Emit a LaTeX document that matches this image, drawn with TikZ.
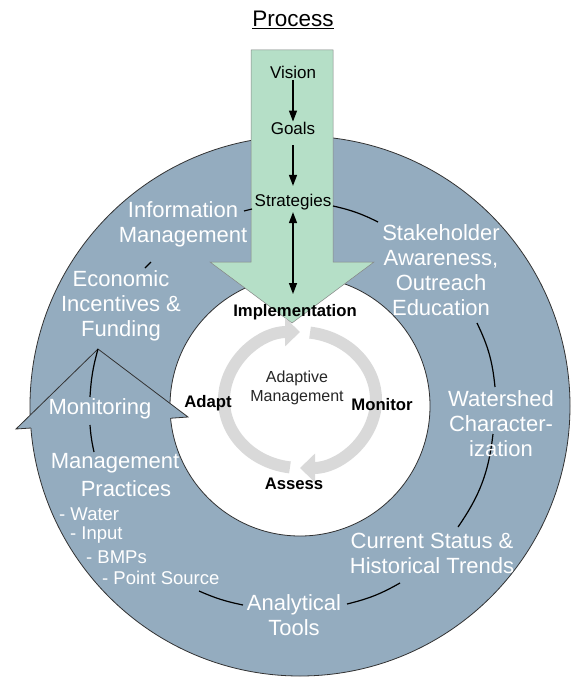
\documentclass[tikz,border=0pt]{standalone}
\usepackage{fontspec}
\setmainfont{Liberation Sans}
\usetikzlibrary{arrows.meta,calc}
\definecolor{ringblue}{RGB}{148,172,191}
\definecolor{arrgreen}{RGB}{181,223,199}
\definecolor{amgray}{RGB}{217,217,217}
\definecolor{edgegray}{RGB}{50,50,50}
\begin{document}
\begin{tikzpicture}[x=1pt,y=1pt,
  ringtxt/.style={text=white, font=\fontsize{22}{25}\selectfont, align=center, inner sep=0pt},
  subtxt/.style={text=white, font=\fontsize{18.5}{21}\selectfont, anchor=west, inner sep=0pt},
  greentxt/.style={font=\fontsize{17}{20}\selectfont, inner sep=0pt},
  amtxt/.style={font=\bfseries\fontsize{16.7}{19}\selectfont, inner sep=0pt},
  link/.style={line width=1.2pt, black},
  flow/.style={line width=1.4pt, -{Triangle[width=8pt,length=11pt]}},
  dflow/.style={line width=1.4pt, {Triangle[width=8pt,length=11pt]}-{Triangle[width=8pt,length=11pt]}},
  cyc/.style={line width=12pt, amgray, -{Triangle[width=28pt,length=15pt]}},
]
\useasboundingbox (0,0) rectangle (573,-677);
\coordinate (ctr) at (300,-406);
% ring
\fill[ringblue, even odd rule] (ctr) circle[radius=270] (ctr) circle[radius=130];
\draw[edgegray, line width=0.8pt] (ctr) circle[radius=270] (ctr) circle[radius=130];
% arrow head of the ring
\coordinate (tip) at (98,-349);
\coordinate (hl) at (16,-429);
\coordinate (hr) at (188,-417);
\coordinate (ho) at (31,-428);
\coordinate (hi) at (171,-418.2);
\fill[ringblue] (hl) -- (tip) -- (hr) -- cycle;
\draw[edgegray, line width=0.8pt] (ho) -- (hl) -- (tip) -- (hr) -- (hi);
% green arrow
\fill[arrgreen, draw=edgegray!60, line width=0.5pt]
  (251,-50) -- (333,-50) -- (333,-262) -- (374,-262) -- (292,-323) -- (210,-262) -- (251,-262) -- cycle;
% ring connectors
\coordinate (l1a) at (244,-211); \coordinate (l1b) at (252,-209);
\coordinate (l2a) at (333,-206); \coordinate (l2b) at (378,-222);
\coordinate (l3a) at (145,-268); \coordinate (l3b) at (151,-262);
\coordinate (l4b) at (90,-397);
\coordinate (l5a) at (90,-425); \coordinate (l5b) at (94,-452);
\coordinate (l6a) at (199,-591); \coordinate (l6b) at (243,-605);
\coordinate (l7a) at (347,-604); \coordinate (l7b) at (400,-583);
\coordinate (l8a) at (458,-527); \coordinate (l8b) at (493,-434);
\coordinate (l9a) at (477,-323); \coordinate (l9b) at (495,-387);
\draw[link] (l1a) -- (l1b);
\draw[link] (l2a) to[bend left=7] (l2b);
\draw[link] (l3a) -- (l3b);
\draw[link] (tip) to[bend right=6] (l4b);
\draw[link] (l5a) to[bend right=4] (l5b);
\draw[link] (l6a) to[bend right=6] (l6b);
\draw[link] (l7a) to[bend right=8] (l7b);
\draw[link] (l8a) to[bend right=14] (l8b);
\draw[link] (l9a) to[bend left=10] (l9b);
% texts in the green arrow
\node[greentxt, font=\fontsize{22.5}{26}\selectfont] (process) at (293,-20) {\underline{Process}};
\node[greentxt] (vision) at (293,-72) {Vision};
\node[greentxt] (goals) at (293,-128) {Goals};
\node[greentxt] (strat) at (293,-202) {Strategies};
\node[amtxt] (impl) at (295,-312) {Implementation};
\draw[flow] ([yshift=-2pt]vision.south) -- (goals.north);
\draw[flow] ([yshift=-11pt]goals.south) -- ([yshift=8pt]strat.north);
\draw[dflow] ([yshift=-2pt]strat.south) -- ([yshift=10pt]impl.north -| strat.south);
% adaptive management cycle
\coordinate (amc) at (300,-400);
\draw[cyc] ($(amc)+(-97.6:76 and 68)$) arc[start angle=-97.6, end angle=-270, x radius=76, y radius=68];
\draw[cyc] ($(amc)+(82.4:76 and 68)$) arc[start angle=82.4, end angle=-90, x radius=76, y radius=68];
\node[amtxt] (adapt) at (208,-403) {Adapt};
\node[amtxt] (monitor) at (382,-405) {Monitor};
\node[amtxt] (assess) at (294,-484) {Assess};
\node[font=\fontsize{16}{19}\selectfont, align=center, inner sep=0pt, text=black!85] (am) at (297,-388) {Adaptive\\Management};
% ring texts
\node[ringtxt] (info) at (183,-224.5) {Information\\Management};
\node[ringtxt] (econ) at (121,-306) {Economic\\Incentives \&\\Funding};
\node[ringtxt] (monring) at (100,-409) {Monitoring};
\node[ringtxt] (mp1) at (115,-463) {Management};
\node[ringtxt] (mp2) at (126,-489) {Practices};
\node[subtxt] (w) at (59,-514) {- Water};
\node[subtxt] (inp) at (70,-535) {- Input};
\node[subtxt] (bmp) at (86,-557) {- BMPs};
\node[subtxt] (ps) at (102,-578) {- Point Source};
\node[ringtxt] (anal) at (294,-615) {Analytical\\Tools};
\node[ringtxt] (curr) at (432,-553) {Current Status \&\\Historical Trends};
\node[ringtxt] (wsc) at (501,-424) {Watershed\\Character-\\ization};
\node[ringtxt] (stake) at (441,-270) {Stakeholder\\Awareness,\\Outreach\\Education};
\end{tikzpicture}
\end{document}
